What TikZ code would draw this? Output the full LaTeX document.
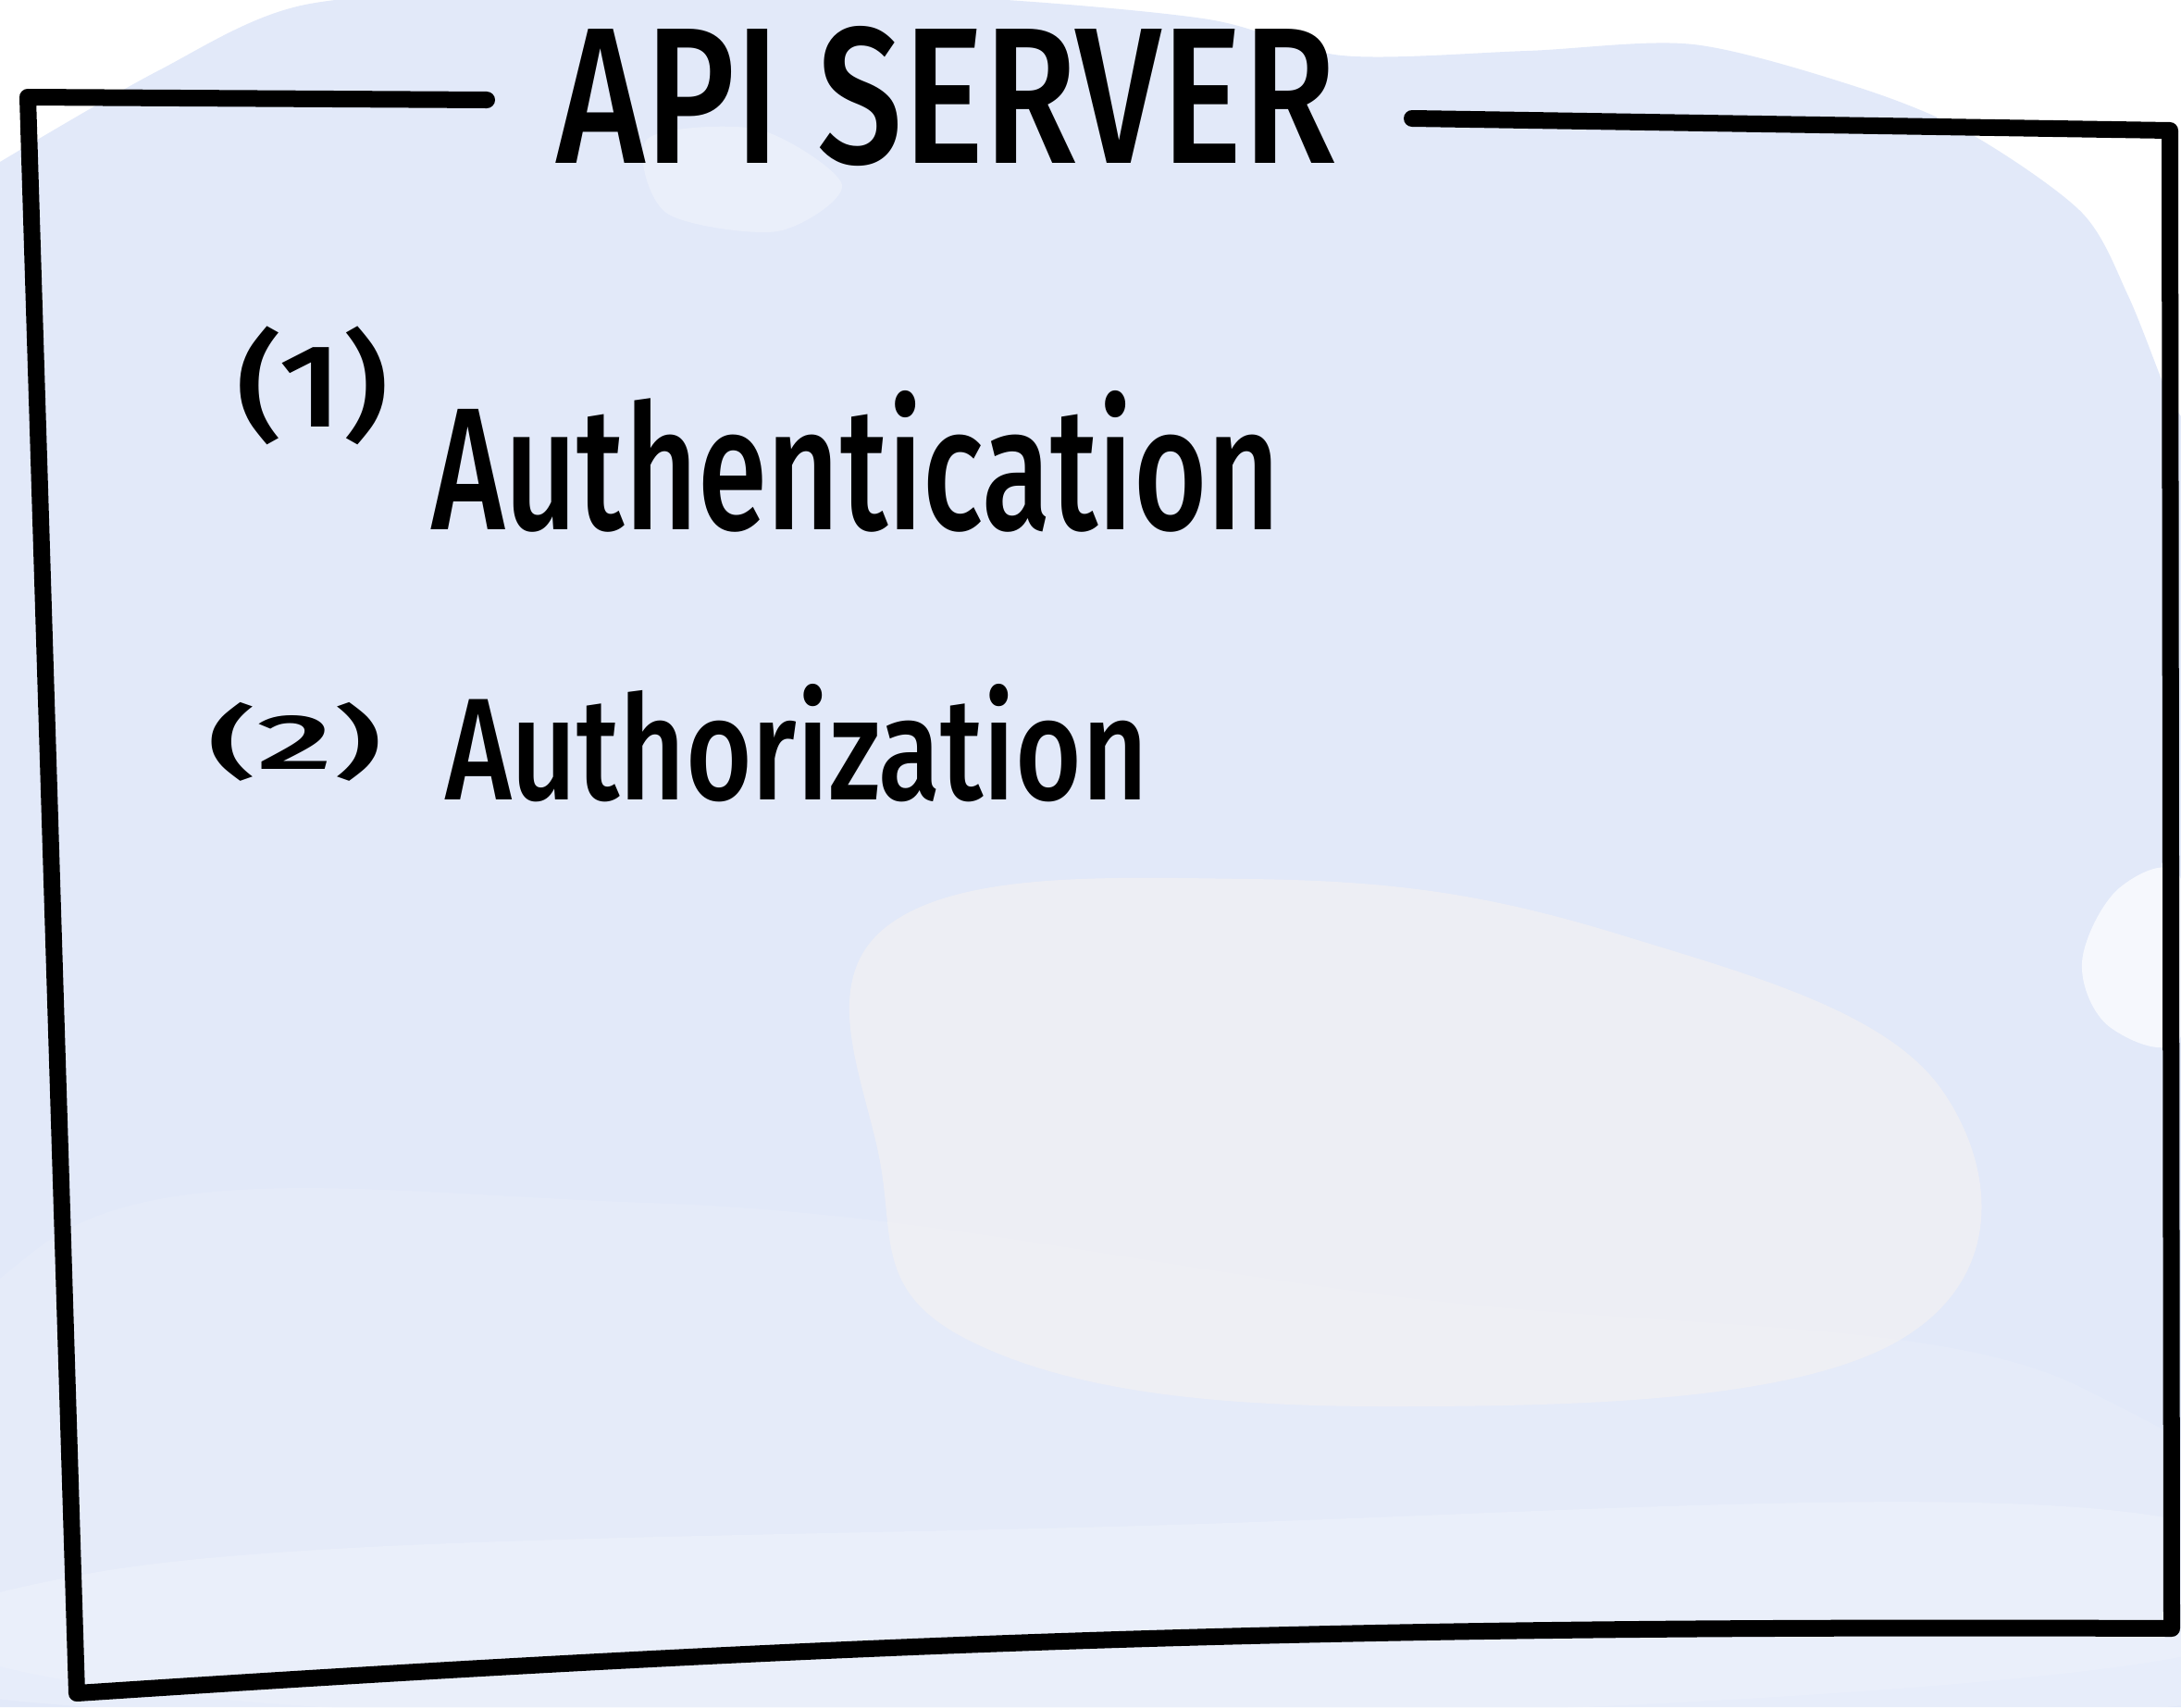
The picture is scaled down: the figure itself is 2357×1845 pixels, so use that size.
\documentclass[tikz,border=0pt]{standalone}
\usepackage{fontspec}
\setmainfont{Fira Sans}
\newfontfamily\penfont{Fira Sans Medium}
\usepackage{graphicx}
\usetikzlibrary{positioning}

\definecolor{washblue}{RGB}{226,233,249}
\definecolor{washlight}{RGB}{238,242,252}
\definecolor{washpeach}{RGB}{248,243,240}

% words are stretched to the size of the handwriting
\newcommand{\penword}[3]{\resizebox{#1}{#2}{\penfont #3}}
\newcommand{\penmark}[3]{\resizebox*{#1}{#2}{\penfont #3}}

\tikzset{
  pen/.style={line width=0.18cm, line cap=round, line join=round, black},
  inkword/.style={inner sep=0pt, outer sep=0pt, text=black},
  blob/.style={opacity=0.3}
}

\begin{document}
\begin{tikzpicture}[x=0.01cm, y=-0.01cm]
  \useasboundingbox (0,0) rectangle (2357,1845);
  \fill[white] (0,0) rectangle (2357,1845);

  % watercolour wash
  \fill[washblue] (0,1845) -- plot[smooth, tension=0.5] coordinates {
    (0,175) (170,77) (330,5) (600,-10) (1000,-5) (1300,20) (1450,60)
    (1650,55) (1830,48) (2010,95) (2130,145) (2250,230) (2300,320)
    (2340,420) (2357,450)} -- (2357,1845) -- cycle;
  \fill[white, blob] plot[smooth cycle] coordinates {
    (700,150) (820,140) (910,200) (840,250) (720,230)};
  \fill[washlight, blob] plot[smooth cycle, tension=0.7] coordinates {
    (40,1350) (700,1300) (1500,1400) (2250,1500) (2300,1800) (40,1810)};
  \fill[white, opacity=0.2] plot[smooth cycle, tension=0.7] coordinates {
    (100,1700) (1200,1650) (2340,1640) (2340,1845) (100,1845)};
  \fill[washpeach, opacity=0.5] plot[smooth cycle, tension=0.7] coordinates {
    (960,1000) (1350,950) (1750,1010) (2100,1180) (2050,1450)
    (1500,1520) (1050,1450) (950,1250)};
  \fill[white, opacity=0.7] plot[smooth cycle, tension=0.6] coordinates {
    (2250,1040) (2290,960) (2357,950) (2357,1120) (2280,1110)};

  % frame corners
  \coordinate (tl) at (30,105);
  \coordinate (tlend) at (526,108);
  \coordinate (trstart) at (1526,128);
  \coordinate (tr) at (2345,141);
  \coordinate (br) at (2347,1760);
  \coordinate (bl) at (83,1830);

  \draw[pen] (tlend) -- (tl) -- (bl) to[bend left=2] (br) -- (tr) -- (trstart);

  % title and the two steps
  \node[inkword, anchor=base west] (title) at (601,176)
    {\penword{8.42cm}{1.48cm}{API SERVER}};
  \node[inkword, anchor=north west] (one) at (255,353)
    {\penmark{1.65cm}{1.28cm}{(1)}};
  \node[inkword, anchor=base west] (authn) at (466,572)
    {\penword{9.17cm}{1.5cm}{Authentication}};
  \node[inkword, anchor=north west] (two) at (225,759)
    {\penmark{1.88cm}{0.85cm}{(2)}};
  \node[inkword, anchor=base west] (authz) at (481,864)
    {\penword{7.59cm}{1.25cm}{Authorization}};
\end{tikzpicture}
\end{document}
